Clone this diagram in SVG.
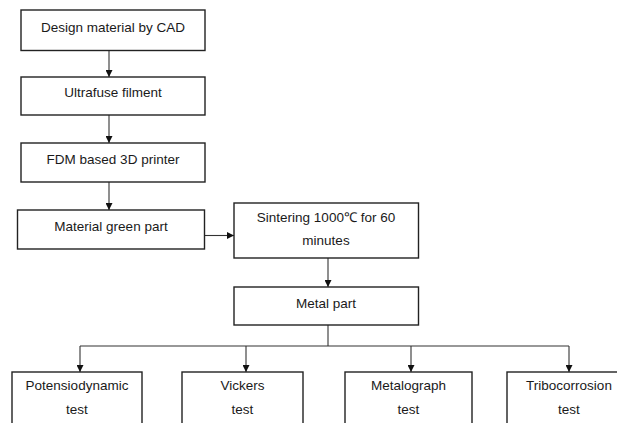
<svg xmlns="http://www.w3.org/2000/svg" width="617" height="423" viewBox="0 0 617 423">
<style>
.box{fill:#fff;stroke:#222;stroke-width:1.4}
.lbl{font-family:"Liberation Sans",Arial,sans-serif;font-size:13.5px;fill:#1a1a1a;text-anchor:middle}
.con{fill:none;stroke:#333;stroke-width:1.1}
</style>
<defs>
<marker id="ah" viewBox="0 0 10 10" refX="10" refY="5" markerWidth="7" markerHeight="7" markerUnits="userSpaceOnUse" orient="auto">
<path d="M0,0 L10,5 L0,10 z" fill="#111"/>
</marker>
</defs>
<rect width="617" height="423" fill="#fff"/>
<g id="connectors">
<line class="con" x1="109" y1="51" x2="109" y2="77" marker-end="url(#ah)"/>
<line class="con" x1="109" y1="115" x2="109" y2="143" marker-end="url(#ah)"/>
<line class="con" x1="109" y1="182" x2="109" y2="210" marker-end="url(#ah)"/>
<line class="con" x1="205" y1="235.5" x2="234" y2="235.5" marker-end="url(#ah)"/>
<line class="con" x1="328" y1="258" x2="328" y2="287" marker-end="url(#ah)"/>
<line class="con" x1="328" y1="325" x2="328" y2="346"/>
<line class="con" x1="80" y1="346" x2="569" y2="346"/>
<line class="con" x1="80" y1="346" x2="80" y2="372" marker-end="url(#ah)"/>
<line class="con" x1="246" y1="346" x2="246" y2="372" marker-end="url(#ah)"/>
<line class="con" x1="411" y1="346" x2="411" y2="372" marker-end="url(#ah)"/>
<line class="con" x1="569" y1="346" x2="569" y2="372" marker-end="url(#ah)"/>
</g>
<g id="n1"><rect class="box" x="21" y="10" width="184" height="40.5"/><text class="lbl" x="113" y="32">Design material by CAD</text></g>
<g id="n2"><rect class="box" x="21" y="77" width="184" height="38"/><text class="lbl" x="113" y="97">Ultrafuse filment</text></g>
<g id="n3"><rect class="box" x="21" y="143" width="184" height="39"/><text class="lbl" x="113" y="164">FDM based 3D printer</text></g>
<g id="n4"><rect class="box" x="17.5" y="210" width="187" height="39"/><text class="lbl" x="111" y="231">Material green part</text></g>
<g id="n5"><rect class="box" x="234" y="203" width="184.5" height="55"/><text class="lbl" x="326" y="222">Sintering 1000℃ for 60</text><text class="lbl" x="326" y="245">minutes</text></g>
<g id="n6"><rect class="box" x="234" y="287" width="184.5" height="38"/><text class="lbl" x="326" y="307.5">Metal part</text></g>
<g id="n7"><rect class="box" x="12" y="372" width="130" height="60"/><text class="lbl" x="77" y="390">Potensiodynamic</text><text class="lbl" x="77" y="414">test</text></g>
<g id="n8"><rect class="box" x="182" y="372" width="121" height="60"/><text class="lbl" x="242.5" y="390">Vickers</text><text class="lbl" x="242.5" y="414">test</text></g>
<g id="n9"><rect class="box" x="345" y="372" width="127" height="60"/><text class="lbl" x="408.5" y="390">Metalograph</text><text class="lbl" x="408.5" y="414">test</text></g>
<g id="n10"><rect class="box" x="507" y="372" width="124" height="60"/><text class="lbl" x="569" y="390">Tribocorrosion</text><text class="lbl" x="569" y="414">test</text></g>
</svg>
